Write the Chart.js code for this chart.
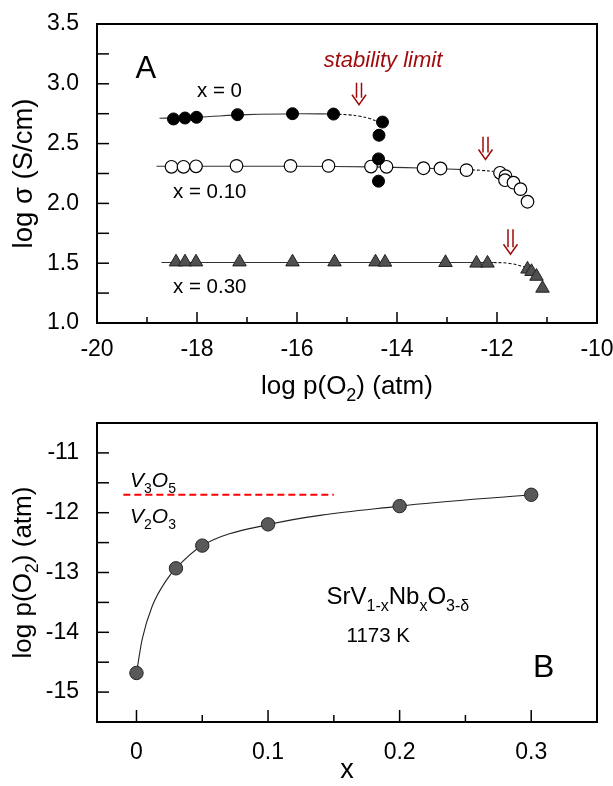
<!DOCTYPE html>
<html><head><meta charset="utf-8">
<script src="https://cdn.jsdelivr.net/npm/chart.js@4.4.0/dist/chart.umd.min.js"></script>
<style>
html,body{margin:0;padding:0;background:#fff;width:613px;height:786px;overflow:hidden}
canvas{position:absolute;left:0}
</style></head>
<body>
<canvas id="cA" width="613" height="410" style="top:0"></canvas>
<canvas id="cB" width="613" height="376" style="top:410px"></canvas>
<script>
// ---------- Panel A data ----------
const x0LogP   = [-18.47,-18.24,-18.01,-17.19,-16.09,-15.27,-14.29,-14.36,-14.37,-14.37];
const x0Sigma  = [2.706,2.714,2.72,2.742,2.75,2.747,2.68,2.57,2.372,2.186];
const x10LogP  = [-18.51,-18.27,-18.02,-17.21,-16.13,-15.37,-14.52,-14.21,-13.47,-13.13,-12.61,-11.94,-11.83,-11.84,-11.67,-11.53,-11.39];
const x10Sigma = [2.306,2.306,2.31,2.314,2.314,2.314,2.308,2.306,2.294,2.292,2.278,2.256,2.228,2.194,2.173,2.119,2.014];
const x30LogP  = [-18.42,-18.24,-18.02,-17.15,-16.09,-15.25,-14.43,-14.24,-13.03,-12.41,-12.19,-11.39,-11.31,-11.21,-11.09];
const x30Sigma = [1.51,1.51,1.51,1.51,1.51,1.51,1.51,1.508,1.505,1.50,1.50,1.45,1.43,1.39,1.29];
// fitted guide lines (solid and dashed parts)
const fit0SolidX  = [-18.75,-18.0,-17.0,-16.0,-15.27];
const fit0SolidY  = [2.712,2.722,2.742,2.75,2.747];
const fit0DashX   = [-15.27,-14.95,-14.74,-14.55,-14.40];
const fit0DashY   = [2.747,2.74,2.728,2.71,2.686];
const fit10SolidX = [-18.81,-16.0,-14.5,-13.5,-12.5];
const fit10SolidY = [2.31,2.31,2.305,2.295,2.28];
const fit10DashX  = [-12.5,-12.3,-12.07];
const fit10DashY  = [2.28,2.276,2.268];
const fit30SolidX = [-18.71,-12.07];
const fit30SolidY = [1.506,1.506];
const fit30DashX  = [-12.07,-11.74,-11.41];
const fit30DashY  = [1.506,1.498,1.465];
// stability limit arrows: x, top, tip
const arrowX   = [-14.76,-12.23,-11.73];
const arrowTop = [3.008,2.558,1.783];
const arrowTip = [2.825,2.367,1.575];
// axis ticks
const aXLabels = [-20,-18,-16,-14,-12,-10];
const aXMinor  = [-19,-17,-15,-13,-11];
const aYLabels = [1.0,1.5,2.0,2.5,3.0,3.5];
const aYMinor  = [1.25,1.75,2.25,2.75,3.25];

// ---------- Panel B data ----------
const bX = [0,0.03,0.05,0.1,0.2,0.3];
const bY = [-14.68,-12.93,-12.55,-12.195,-11.89,-11.70];
const bFitX = [0,0.0044,0.012,0.0233,0.03,0.05,0.1,0.2,0.3];
const bFitY = [-14.68,-14.11,-13.56,-13.11,-12.93,-12.55,-12.2,-11.89,-11.70];
const phaseX = [-0.01,0.15];
const phaseY = [-11.7,-11.7];
const bXLabels = [0,0.1,0.2,0.3];
const bXMinor  = [0.05,0.15,0.25];
const bYLabels = [-15,-14,-13,-12,-11];
const bYMinor  = [-14.5,-13.5,-12.5,-11.5];

const FONT = "'Liberation Sans', Arial, sans-serif";
const RED = '#9e0b0b';
const pts = (xs, ys) => xs.map((x, i) => ({x, y: ys[i]}));

function rich(ctx, segs, x, y, align, size) {
  const mainF = (it) => (it ? 'italic ' : '') + size + 'px ' + FONT;
  const subF = (it) => (it ? 'italic ' : '') + Math.round(size * 0.68) + 'px ' + FONT;
  let w = 0;
  segs.forEach(s => { ctx.font = s[1] ? subF(s[2]) : mainF(s[2]); w += ctx.measureText(s[0]).width; });
  let cx = align === 'center' ? x - w / 2 : x;
  ctx.textAlign = 'left'; ctx.textBaseline = 'alphabetic';
  segs.forEach(s => {
    ctx.font = s[1] ? subF(s[2]) : mainF(s[2]);
    ctx.fillText(s[0], cx, s[1] ? y + size * 0.28 : y);
    cx += ctx.measureText(s[0]).width;
  });
}

function frameTicks(chart, xMaj, xMin, yAll, xMajLen, xMinLen, yLen) {
  const {ctx, chartArea: a, scales} = chart;
  ctx.save();
  ctx.strokeStyle = '#000'; ctx.lineWidth = 1.5;
  const vx = (v, len) => { const p = scales.x.getPixelForValue(v); ctx.beginPath(); ctx.moveTo(p, a.bottom); ctx.lineTo(p, a.bottom - len); ctx.stroke(); };
  xMaj.forEach(v => vx(v, xMajLen));
  xMin.forEach(v => vx(v, xMinLen));
  yAll.forEach(v => { const p = scales.y.getPixelForValue(v); ctx.beginPath(); ctx.moveTo(a.left, p); ctx.lineTo(a.left + yLen, p); ctx.stroke(); });
  ctx.lineWidth = 2;
  ctx.strokeRect(a.left, a.top, a.right - a.left, a.bottom - a.top);
  ctx.restore();
}

const common = {
  responsive: false, animation: false, devicePixelRatio: 1,
  plugins: {legend: {display: false}, tooltip: {enabled: false}}
};
const TICKFONT = {family: FONT, size: 23};
const fixX = h => s => { s.height = h; s.paddingLeft = 0; s.paddingRight = 0; };
const fixY = w => s => { s.width = w; s.paddingTop = 0; s.paddingBottom = 0; };

// ---------- Chart A ----------
const lineDs = (xs, ys, dash) => ({
  type: 'line', data: pts(xs, ys), borderColor: dash ? '#111' : '#333', borderWidth: 1.1,
  borderDash: dash ? [3, 2] : [], pointRadius: 0, tension: 0.4, fill: false, order: 2
});
new Chart(document.getElementById('cA'), {
  type: 'scatter',
  data: {datasets: [
    {data: pts(x0LogP, x0Sigma), pointStyle: 'circle', pointRadius: 6, backgroundColor: '#000', borderColor: '#000', borderWidth: 1, order: 0},
    {data: pts(x10LogP, x10Sigma), pointStyle: 'circle', pointRadius: 6.3, backgroundColor: '#fff', borderColor: '#000', borderWidth: 1.2, order: 0},
    {data: pts(x30LogP, x30Sigma), pointStyle: 'triangle', pointRadius: 7.8, backgroundColor: '#505050', borderColor: '#222', borderWidth: 1, order: 0},
    lineDs(fit0SolidX, fit0SolidY, false), lineDs(fit0DashX, fit0DashY, true),
    lineDs(fit10SolidX, fit10SolidY, false), lineDs(fit10DashX, fit10DashY, true),
    lineDs(fit30SolidX, fit30SolidY, false), lineDs(fit30DashX, fit30DashY, true)
  ]},
  options: Object.assign({}, common, {
    layout: {padding: {left: 0, right: 16, top: 24, bottom: 0}},
    scales: {
      x: {type: 'linear', min: -20, max: -10,
        afterBuildTicks: s => { s.ticks = aXLabels.map(v => ({value: v})); },
        afterFit: fixX(87),
        grid: {display: false}, border: {display: false},
        ticks: {font: TICKFONT, color: '#000', padding: 5, maxRotation: 0, callback: v => String(v)}},
      y: {type: 'linear', min: 1, max: 3.5,
        afterBuildTicks: s => { s.ticks = aYLabels.map(v => ({value: v})); },
        afterFit: fixY(97),
        grid: {display: false}, border: {display: false},
        ticks: {font: TICKFONT, color: '#000', padding: 10, callback: v => Number(v).toFixed(1)}}
    }
  }),
  plugins: [{id: 'decoA', afterDraw(chart) {
    const {ctx, scales} = chart;
    frameTicks(chart, aXLabels, aXMinor, aYLabels.concat(aYMinor), 11, 6, 12);
    ctx.save();
    ctx.strokeStyle = RED; ctx.lineWidth = 1.5;
    arrowX.forEach((v, i) => {
      const x = scales.x.getPixelForValue(v), t = scales.y.getPixelForValue(arrowTop[i]), b = scales.y.getPixelForValue(arrowTip[i]);
      ctx.beginPath();
      ctx.moveTo(x - 2.5, t); ctx.lineTo(x - 2.5, b - 7);
      ctx.moveTo(x + 2.5, t); ctx.lineTo(x + 2.5, b - 7);
      ctx.moveTo(x - 7, b - 10); ctx.lineTo(x, b); ctx.lineTo(x + 7, b - 10);
      ctx.stroke();
    });
    ctx.fillStyle = '#000';
    rich(ctx, [['A']], 135.5, 77.5, 'left', 31);
    rich(ctx, [['x = 0']], 197, 96.5, 'left', 20.5);
    rich(ctx, [['x = 0.10']], 173, 198.3, 'left', 20.5);
    rich(ctx, [['x = 0.30']], 173, 293.3, 'left', 20.5);
    ctx.fillStyle = RED;
    rich(ctx, [['stability limit', false, true]], 383, 66.7, 'center', 22);
    ctx.fillStyle = '#000';
    rich(ctx, [['log p(O'], ['2', true], [') (atm)']], 347, 394, 'center', 26);
    ctx.translate(32, 173.5); ctx.rotate(-Math.PI / 2);
    rich(ctx, [['log σ (S/cm)']], 0, 0, 'center', 27.5);
    ctx.restore();
  }}]
});

// ---------- Chart B ----------
new Chart(document.getElementById('cB'), {
  type: 'scatter',
  data: {datasets: [
    {data: pts(bX, bY), pointStyle: 'circle', pointRadius: 6.7, backgroundColor: '#595959', borderColor: '#222', borderWidth: 1, order: 0},
    {type: 'line', data: pts(bFitX, bFitY), borderColor: '#222', borderWidth: 1.1, pointRadius: 0, cubicInterpolationMode: 'monotone', fill: false, order: 2},
    {type: 'line', data: pts(phaseX, phaseY), borderColor: '#ff0000', borderWidth: 2, borderDash: [7, 4], pointRadius: 0, fill: false, order: 1}
  ]},
  options: Object.assign({}, common, {
    layout: {padding: {left: 0, right: 16, top: 13, bottom: 0}},
    scales: {
      x: {type: 'linear', min: -0.03, max: 0.35,
        afterBuildTicks: s => { s.ticks = bXLabels.map(v => ({value: v})); },
        afterFit: fixX(64),
        grid: {display: false}, border: {display: false},
        ticks: {font: TICKFONT, color: '#000', padding: 9, maxRotation: 0, callback: v => String(Math.round(v * 10) / 10)}},
      y: {type: 'linear', min: -15.5, max: -10.5,
        afterBuildTicks: s => { s.ticks = bYLabels.map(v => ({value: v})); },
        afterFit: fixY(97),
        grid: {display: false}, border: {display: false},
        ticks: {font: TICKFONT, color: '#000', padding: 10, callback: v => String(v)}}
    }
  }),
  plugins: [{id: 'decoB', afterDraw(chart) {
    const {ctx} = chart;
    frameTicks(chart, bXLabels, bXMinor, bYLabels.concat(bYMinor), 12, 7, 12);
    ctx.save();
    ctx.fillStyle = '#000';
    rich(ctx, [['V', false, true], ['3', true, false], ['O', false, true], ['5', true, false]], 130, 77, 'left', 21);
    rich(ctx, [['V', false, true], ['2', true, false], ['O', false, true], ['3', true, false]], 130, 112.7, 'left', 21);
    rich(ctx, [['SrV'], ['1-x', true], ['Nb'], ['x', true], ['O'], ['3-δ', true]], 326.5, 194, 'left', 24);
    rich(ctx, [['1173 K']], 346.5, 231.7, 'left', 20.5);
    rich(ctx, [['B']], 533, 266.7, 'left', 32);
    rich(ctx, [['x']], 347, 368, 'center', 27);
    ctx.translate(31, 162.5); ctx.rotate(-Math.PI / 2);
    rich(ctx, [['log p(O'], ['2', true], [') (atm)']], 0, 0, 'center', 26);
    ctx.restore();
  }}]
});
</script>
</body></html>
